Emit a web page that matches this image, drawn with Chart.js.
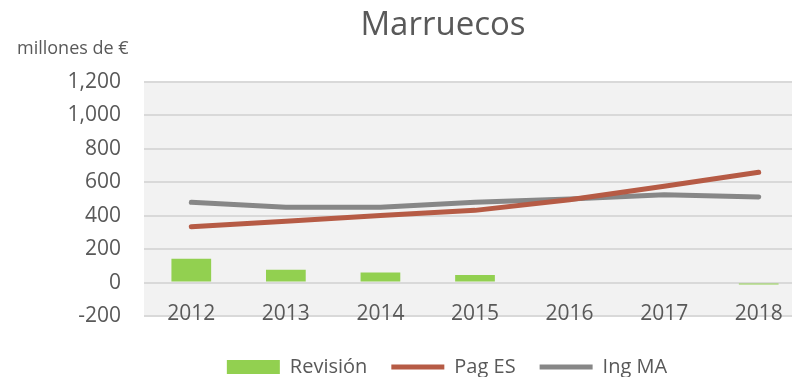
<!DOCTYPE html>
<html lang="es">
<head>
  <meta charset="UTF-8">
  <title>Marruecos</title>
  <script src="https://cdn.jsdelivr.net/npm/chart.js"></script>
  <style>
    html, body {
      margin: 0;
      padding: 0;
      overflow: hidden;
      background: #ffffff;
    }
    #chart-container {
      width: 806px;
      height: 377px;
    }
  </style>
</head>
<body>
  <div id="chart-container">
    <canvas id="marruecosChart" width="806" height="377"></canvas>
  </div>

  <script>
    // Values in millions of euros
    const years = ["2012", "2013", "2014", "2015", "2016", "2017", "2018"];
    const revision = [142, 77, 61, 46, 0, 0, -12];
    const pagES = [334, 367, 401, 432, 496, 576, 660];
    const ingMA = [480, 450, 450, 480, 500, 526, 512];

    const yMin = -200;
    const yMax = 1200;
    const yStep = 200;

    const chartTitle = "Marruecos";
    const unitLabel = "millones de €";

    const textColor = "#595959";
    const fontFamily = "'Open Sans', sans-serif";

    // Grey plot background, title and unit caption, legend nudged to the centre
    const decorations = {
      id: "decorations",
      afterLayout(chart) {
        chart.legend.left += 44;
        chart.legend.right += 44;
        chart.legend.top += 10;
        chart.legend.bottom += 10;
      },
      beforeDraw(chart) {
        const { ctx, chartArea: a } = chart;
        ctx.save();
        ctx.fillStyle = "#F2F2F2";
        ctx.fillRect(a.left, a.top, a.right - a.left, a.bottom - a.top);
        ctx.restore();
      },
      afterDraw(chart) {
        const ctx = chart.ctx;
        ctx.save();
        ctx.fillStyle = textColor;
        ctx.textBaseline = "middle";
        ctx.textAlign = "center";
        ctx.font = "33px " + fontFamily;
        ctx.fillText(chartTitle, 443, 26);
        ctx.textAlign = "left";
        ctx.font = "18px " + fontFamily;
        ctx.fillText(unitLabel, 17, 49);
        ctx.restore();
      }
    };

    const ctx = document.getElementById("marruecosChart").getContext("2d");

    new Chart(ctx, {
      type: "bar",
      data: {
        labels: years,
        datasets: [
          {
            type: "bar",
            label: "Revisión",
            data: revision,
            backgroundColor: "#92D050",
            borderWidth: 0,
            barPercentage: 0.42,
            categoryPercentage: 1
          },
          {
            type: "line",
            label: "Pag ES",
            data: pagES,
            borderColor: "#B65B45",
            backgroundColor: "#B65B45",
            borderWidth: 5,
            borderCapStyle: "round",
            borderJoinStyle: "round",
            pointRadius: 0,
            tension: 0
          },
          {
            type: "line",
            label: "Ing MA",
            data: ingMA,
            borderColor: "#878787",
            backgroundColor: "#878787",
            borderWidth: 5,
            borderCapStyle: "round",
            borderJoinStyle: "round",
            pointRadius: 0,
            tension: 0
          }
        ]
      },
      options: {
        responsive: false,
        animation: false,
        layout: {
          padding: { top: 82, left: 0, right: 0, bottom: 0 }
        },
        scales: {
          x: {
            grid: { display: false },
            border: { display: false },
            ticks: {
              mirror: true,
              padding: -11,
              color: textColor,
              font: { family: fontFamily, size: 21 }
            },
            afterFit(scale) {
              scale.height = 7;
            }
          },
          y: {
            min: yMin,
            max: yMax,
            grid: { color: "#D9D9D9", lineWidth: 2, drawTicks: false },
            border: { display: false },
            ticks: {
              stepSize: yStep,
              padding: 23,
              color: textColor,
              font: { family: fontFamily, size: 21 },
              callback: value => value.toLocaleString("en-US")
            },
            afterFit(scale) {
              scale.width = 144;
            }
          }
        },
        plugins: {
          title: { display: false },
          tooltip: { enabled: false },
          legend: {
            position: "bottom",
            labels: {
              usePointStyle: true,
              pointStyleWidth: 53,
              boxHeight: 14,
              padding: 24,
              color: textColor,
              font: { family: fontFamily, size: 20 },
              generateLabels(chart) {
                return Chart.defaults.plugins.legend.labels.generateLabels(chart)
                  .map((item, i) => Object.assign(item, { pointStyle: i === 0 ? "rect" : "line" }));
              }
            }
          }
        }
      },
      plugins: [decorations]
    });
  </script>
</body>
</html>
